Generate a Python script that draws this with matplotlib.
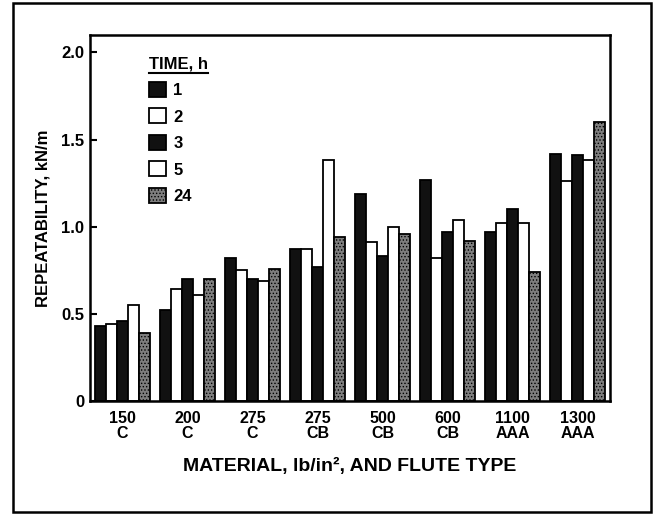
import numpy as np
import matplotlib.pyplot as plt
from matplotlib.patches import Rectangle
from matplotlib.lines import Line2D

plt.rcParams['font.family'] = ['Liberation Sans', 'DejaVu Sans']
plt.rcParams['font.weight'] = 'bold'
plt.rcParams['hatch.linewidth'] = 0.6

materials = ['150\nC', '200\nC', '275\nC', '275\nCB', '500\nCB', '600\nCB', '1100\nAAA', '1300\nAAA']
times = ['1', '2', '3', '5', '24']

# repeatability (kN/m) per material, one list per time
t1 = [0.43, 0.52, 0.82, 0.87, 1.19, 1.27, 0.97, 1.42]
t2 = [0.44, 0.64, 0.75, 0.87, 0.91, 0.82, 1.02, 1.26]
t3 = [0.46, 0.70, 0.70, 0.77, 0.83, 0.97, 1.10, 1.41]
t5 = [0.55, 0.61, 0.69, 1.38, 1.00, 1.04, 1.02, 1.38]
t24 = [0.39, 0.70, 0.76, 0.94, 0.96, 0.92, 0.74, 1.60]
series = [t1, t2, t3, t5, t24]

styles = [
    dict(facecolor='#111111', edgecolor='black', hatch=None),
    dict(facecolor='white', edgecolor='black', hatch=None),
    dict(facecolor='#111111', edgecolor='black', hatch=None),
    dict(facecolor='white', edgecolor='black', hatch=None),
    dict(facecolor='#7e7e7e', edgecolor='black', hatch='.....'),
]

fig = plt.figure(figsize=(6.55, 5.14), dpi=100)
ax = fig.add_axes([0.1374, 0.2198, 0.7939, 0.7121])

x = np.arange(len(materials))
w = 0.17
for i, (vals, st) in enumerate(zip(series, styles)):
    ax.bar(x + (i - 2) * w, vals, width=w, linewidth=1.3, label=times[i], **st)

ax.set_xlim(-0.5, len(materials) - 0.5)
ax.set_ylim(0, 2.1)
ax.set_yticks([0, 0.5, 1.0, 1.5, 2.0])
ax.set_yticklabels(['0', '0.5', '1.0', '1.5', '2.0'])
ax.set_xticks(x)
ax.set_xticklabels(materials, linespacing=1.05)
ax.tick_params(axis='x', length=0, pad=7, labelsize=11.5)
ax.tick_params(axis='y', direction='in', length=5, width=1.5, labelsize=12, pad=4)
for s in ax.spines.values():
    s.set_linewidth(1.8)

ax.set_ylabel('REPEATABILITY, kN/m', fontsize=12, fontweight='bold', labelpad=8)
ax.set_xlabel('MATERIAL, lb/in², AND FLUTE TYPE', fontsize=14, fontweight='bold', labelpad=12)

leg = ax.legend(title='TIME, h', loc='upper left', bbox_to_anchor=(0.085, 0.982),
                frameon=False, fontsize=12, title_fontsize=12,
                handlelength=1.0, handleheight=1.0, handletextpad=0.45,
                labelspacing=0.62, alignment='left')
leg.get_title().set_fontweight('bold')

# underline the legend title
fig.canvas.draw()
bb = leg.get_title().get_window_extent().transformed(fig.transFigure.inverted())
fig.add_artist(Line2D([bb.x0, bb.x1], [bb.y0 - 0.002, bb.y0 - 0.002],
                      transform=fig.transFigure, color='black', linewidth=1.5))

# outer border
fig.add_artist(Rectangle((0.02, 0.004), 0.974, 0.99, transform=fig.transFigure,
                         fill=False, edgecolor='black', linewidth=1.8))

fig.savefig('out.png', dpi=100)
